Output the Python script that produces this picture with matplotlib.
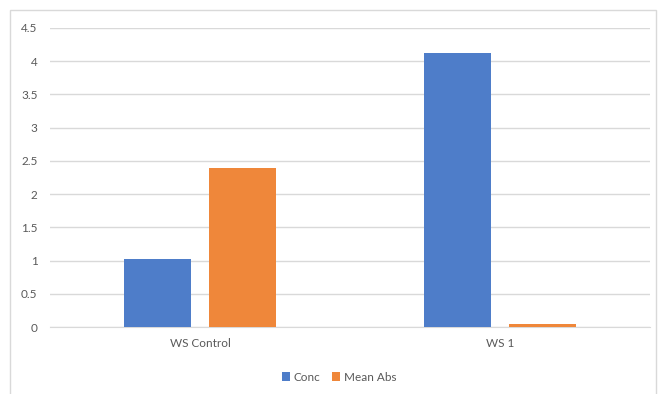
import matplotlib.pyplot as plt
import numpy as np
from matplotlib.patches import Rectangle

categories = ["WS Control", "WS 1"]
conc = [1.02, 4.13]
mean_abs = [2.39, 0.04]
yticks = [0, 0.5, 1, 1.5, 2, 2.5, 3, 3.5, 4, 4.5]

BLUE = "#4e7dc9"
ORANGE = "#ef873a"
GRID = "#d9d9d9"
TXT = "#595959"

plt.rcParams["font.family"] = ["Lato", "DejaVu Sans"]

fig = plt.figure(figsize=(6.58, 3.94), dpi=100)
ax = fig.add_axes([0.076, 0.170, 0.912, 0.759])

x = np.arange(len(categories))
w = 0.223
off = 0.142
ax.bar(x - off, conc, w, color=BLUE, label="Conc", zorder=3)
ax.bar(x + off, mean_abs, w, color=ORANGE, label="Mean Abs", zorder=3)

ax.set_xlim(-0.5, 1.5)
ax.set_ylim(0, 4.5)
ax.set_yticks(yticks)
ax.set_yticklabels([f"{v:g}" for v in yticks])
ax.set_xticks(x)
ax.set_xticklabels(categories)
ax.tick_params(axis="both", length=0, labelsize=8.5, colors=TXT, pad=8)
ax.tick_params(axis="y", pad=9)
ax.yaxis.grid(True, color=GRID, linewidth=1, zorder=0)
for s in ["top", "right", "left"]:
    ax.spines[s].set_visible(False)
ax.spines["bottom"].set_color(GRID)

fig.legend(loc="center", bbox_to_anchor=(0.515, 0.043), ncol=2, frameon=False,
           fontsize=8.5, handlelength=0.7, handleheight=0.7, handletextpad=0.3,
           columnspacing=1.0, labelcolor=TXT)

fig.patches.append(Rectangle((10 / 658, -0.01), 646 / 658, 1 - 10 / 394 + 0.01,
                             transform=fig.transFigure, fill=False,
                             edgecolor="#d9d9d9", linewidth=1))

fig.savefig("out.png", dpi=100)
